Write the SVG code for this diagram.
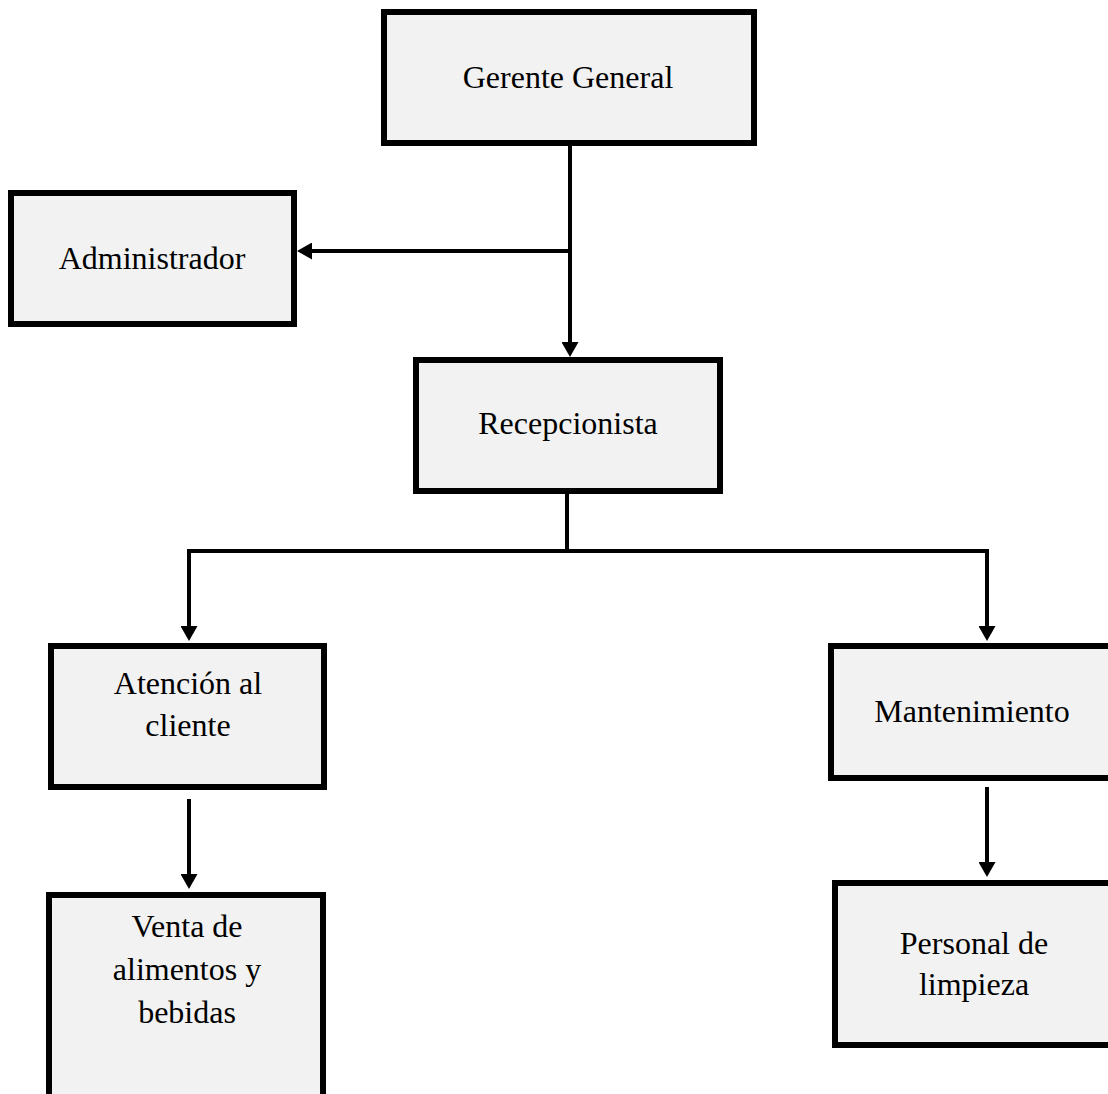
<svg xmlns="http://www.w3.org/2000/svg" width="1108" height="1094" viewBox="0 0 1108 1094">
<style>
.box{fill:#f2f2f2;stroke:#000;stroke-width:6}
.lbl{font-family:"Liberation Serif","Times New Roman",serif;font-size:32px;fill:#000;text-anchor:middle}
.con{fill:none;stroke:#000;stroke-width:4}
</style>
<defs>
<marker id="ah" markerUnits="userSpaceOnUse" markerWidth="15" markerHeight="17" viewBox="0 0 15 17" refX="5" refY="8.5" orient="auto">
<path d="M0,0 L15,8.5 L0,17 z" fill="#000"/>
</marker>
</defs>
<rect width="1108" height="1094" fill="#fff"/>
<g id="connectors">
<path class="con" d="M570,146 V347" marker-end="url(#ah)"/>
<path class="con" d="M570,251 H307" marker-end="url(#ah)"/>
<path class="con" d="M567,494 V551"/>
<path class="con" d="M189,551 H987"/>
<path class="con" d="M189,549 V631" marker-end="url(#ah)"/>
<path class="con" d="M987,549 V631" marker-end="url(#ah)"/>
<path class="con" d="M189,799 V879" marker-end="url(#ah)"/>
<path class="con" d="M987,787 V867" marker-end="url(#ah)"/>
</g>
<g id="gerente">
<rect class="box" x="384" y="12" width="370" height="131"/>
<text class="lbl" x="568" y="88">Gerente General</text>
</g>
<g id="administrador">
<rect class="box" x="11" y="193" width="283" height="131"/>
<text class="lbl" x="152" y="269">Administrador</text>
</g>
<g id="recepcionista">
<rect class="box" x="416" y="360" width="304" height="131"/>
<text class="lbl" x="568" y="434">Recepcionista</text>
</g>
<g id="atencion">
<rect class="box" x="51" y="646" width="273" height="141"/>
<text class="lbl" x="188" y="694">Atención al</text>
<text class="lbl" x="188" y="736">cliente</text>
</g>
<g id="mantenimiento">
<rect class="box" x="831" y="646" width="282" height="132"/>
<text class="lbl" x="972" y="722">Mantenimiento</text>
</g>
<g id="venta">
<rect class="box" x="49" y="895" width="274" height="260"/>
<text class="lbl" x="187" y="937">Venta de</text>
<text class="lbl" x="187" y="980">alimentos y</text>
<text class="lbl" x="187" y="1023">bebidas</text>
</g>
<g id="personal">
<rect class="box" x="835" y="883" width="278" height="162"/>
<text class="lbl" x="974" y="954">Personal de</text>
<text class="lbl" x="974" y="995">limpieza</text>
</g>
</svg>
